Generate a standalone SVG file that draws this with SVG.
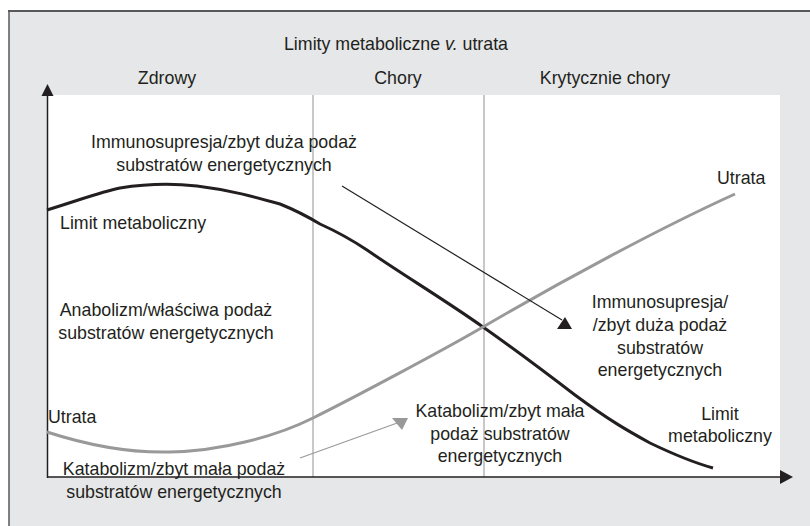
<svg xmlns="http://www.w3.org/2000/svg" width="810" height="526" viewBox="0 0 810 526">
<style>
text{font-family:"Liberation Sans",Arial,sans-serif;font-size:17.8px;fill:#231f20}
.c{text-anchor:middle}
</style>
<rect x="0" y="0" width="810" height="526" fill="#ffffff"/>
<rect x="9" y="11" width="801" height="515" fill="#e6e7e8"/>
<line x1="8" y1="11" x2="810" y2="11" stroke="#58595b" stroke-width="2"/>
<line x1="9" y1="10" x2="9" y2="526" stroke="#58595b" stroke-width="1.5"/>
<rect x="47" y="95" width="733" height="382" fill="#ffffff"/>
<g id="grid">
<line x1="313" y1="95" x2="313" y2="477" stroke="#c8c8c8" stroke-width="2"/>
<line x1="484" y1="95" x2="484" y2="477" stroke="#c8c8c8" stroke-width="2"/>
</g>
<g id="axes">
<line x1="47.5" y1="92" x2="47.5" y2="478" stroke="#231f20" stroke-width="1.5"/>
<polygon points="47.5,84 41.5,96 53.5,96" fill="#231f20"/>
<line x1="47" y1="477" x2="784" y2="477" stroke="#231f20" stroke-width="1.5"/>
<polygon points="793,477 780,470 780,484" fill="#231f20"/>
</g>
<g id="curves">
<path d="M47,210 C80,200 100,192 120,188 C145,184 170,183 197,186 C230,190 255,197 280,204 C300,212 310,218 320,224 C340,233 355,242 367,250 C400,273 445,300 483,327 C510,346 545,372 575,395 C610,421 630,432 650,443 C675,455 695,463 713,468" fill="none" stroke="#231f20" stroke-width="3"/>
<path d="M47,432 C90,446 130,453 170,452 C220,451 275,437 313,418 C353,398 440,352 483,327 C560,282 660,228 735,194" fill="none" stroke="#999999" stroke-width="3"/>
</g>
<g id="connectors">
<line x1="342" y1="186" x2="562" y2="320" stroke="#231f20" stroke-width="1.2"/>
<polygon points="565,317 557,329 572,329" fill="#231f20"/>
<line x1="300" y1="458" x2="400" y2="422" stroke="#999999" stroke-width="1.2"/>
<polygon points="392,418 408,418 402,430" fill="#999999"/>
</g>
<g id="headers">
<text class="c" x="396" y="50">Limity metaboliczne <tspan font-style="italic">v.</tspan> utrata</text>
<text class="c" x="167" y="84">Zdrowy</text>
<text class="c" x="398" y="84">Chory</text>
<text class="c" x="605" y="84">Krytycznie chory</text>
</g>
<g id="label-immuno-top">
<text class="c" x="224" y="148">Immunosupresja/zbyt duża podaż</text>
<text class="c" x="224" y="171">substratów energetycznych</text>
</g>
<g id="label-limit-left"><text x="60" y="229">Limit metaboliczny</text></g>
<g id="label-anabolizm">
<text class="c" x="166" y="316">Anabolizm/właściwa podaż</text>
<text class="c" x="166" y="339">substratów energetycznych</text>
</g>
<g id="label-utrata-right"><text x="717" y="184">Utrata</text></g>
<g id="label-immuno-right">
<text class="c" x="660" y="308">Immunosupresja/</text>
<text class="c" x="660" y="331">/zbyt duża podaż</text>
<text class="c" x="660" y="354">substratów</text>
<text class="c" x="660" y="376">energetycznych</text>
</g>
<g id="label-limit-right">
<text class="c" x="720" y="420">Limit</text>
<text class="c" x="720" y="442">metaboliczny</text>
</g>
<g id="label-utrata-left"><text x="48" y="423">Utrata</text></g>
<g id="label-katabolizm-right">
<text class="c" x="500" y="417">Katabolizm/zbyt mała</text>
<text class="c" x="500" y="440">podaż substratów</text>
<text class="c" x="500" y="462">energetycznych</text>
</g>
<g id="label-katabolizm-left">
<text class="c" x="174" y="475">Katabolizm/zbyt mała podaż</text>
<text class="c" x="174" y="498">substratów energetycznych</text>
</g>
</svg>
